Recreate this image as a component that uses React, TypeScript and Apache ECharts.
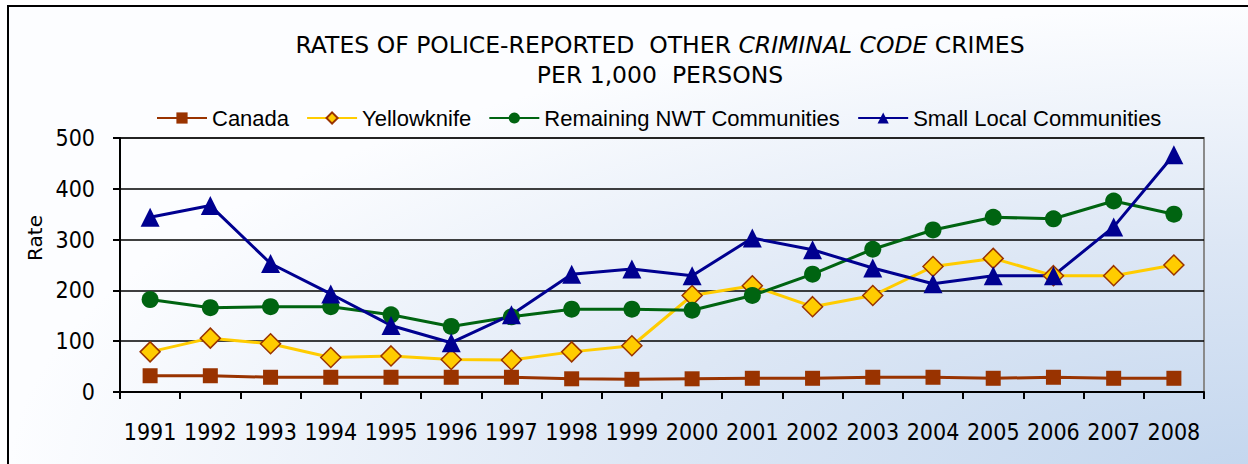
import React, { useEffect, useRef } from "react";
import * as echarts from "echarts";

const years = ["1991", "1992", "1993", "1994", "1995", "1996", "1997", "1998", "1999", "2000", "2001", "2002", "2003", "2004", "2005", "2006", "2007", "2008"];
const canada = [32, 32, 29, 29, 29, 29, 29, 26, 25, 26, 27, 27, 29, 29, 27, 29, 27, 27];
const yellowknife = [79, 106, 95, 68, 71, 64, 63, 79, 91, 190, 209, 168, 190, 247, 263, 229, 229, 250];
const remainingNWT = [182, 166, 168, 168, 152, 129, 148, 163, 163, 161, 190, 232, 281, 319, 344, 341, 376, 350];
const smallLocal = [344, 367, 253, 193, 131, 97, 152, 232, 242, 229, 303, 280, 244, 213, 229, 229, 325, 467];
const yTicks = { min: 0, max: 500, interval: 100 };

const FONT = "'DejaVu Sans Condensed', 'DejaVu Sans', sans-serif";
const TITLE_FONT = "'DejaVu Sans', Verdana, sans-serif";
const LEGEND_FONT = "'Liberation Sans', Arial, sans-serif";

export default function App() {
  const ref = useRef<HTMLDivElement>(null);
  useEffect(() => {
    if (!ref.current) return;
    const chart = echarts.init(ref.current, undefined, { renderer: "svg" });
    const line = (name: string, data: number[], color: string, symbol: string, size: number, item: any) => ({
      name,
      type: "line",
      data,
      symbol,
      symbolSize: size,
      lineStyle: { color, width: 3 },
      itemStyle: item,
      emphasis: { disabled: true },
    });
    chart.setOption({
      animation: false,
      graphic: [
        {
          type: "rect",
          z: -100,
          shape: { x: 8, y: 6, width: 1250, height: 470 },
          style: {
            fill: {
              type: "radial",
              x: 1,
              y: 1,
              r: 1,
              colorStops: [
                { offset: 0, color: "#c3d6ee" },
                { offset: 0.5, color: "#dde7f5" },
                { offset: 1, color: "#fcfdff" },
              ],
            },
            stroke: "#000",
            lineWidth: 2,
          },
          silent: true,
        },
        {
          type: "text",
          x: 35,
          y: 238,
          rotation: Math.PI / 2,
          style: {
            text: "Rate",
            font: `20px ${TITLE_FONT}`,
            fill: "#000",
            align: "center",
            verticalAlign: "middle",
          },
        },
      ],
      title: {
        text: "RATES OF POLICE-REPORTED  OTHER {it|CRIMINAL CODE} CRIMES\nPER 1,000  PERSONS",
        left: 655,
        top: 25,
        textAlign: "center",
        textStyle: {
          fontFamily: TITLE_FONT,
          fontSize: 23.5,
          fontWeight: "normal",
          color: "#000",
          lineHeight: 30,
          rich: {
            it: { fontFamily: TITLE_FONT, fontSize: 23.5, fontStyle: "italic", color: "#000", lineHeight: 30 },
          },
        },
      },
      legend: {
        left: 151,
        top: 102,
        itemWidth: 50,
        itemHeight: 14,
        itemGap: 17,
        textStyle: { fontFamily: LEGEND_FONT, fontSize: 22, color: "#000" },
        data: ["Canada", "Yellowknife", "Remaining NWT Communities", "Small Local Communities"],
      },
      grid: {
        left: 120,
        right: 44,
        top: 138,
        bottom: 72,
        show: true,
        borderColor: "#8a8a8a",
        borderWidth: 2,
        backgroundColor: "transparent",
      },
      xAxis: {
        type: "category",
        data: years,
        boundaryGap: true,
        axisLine: { lineStyle: { color: "#000", width: 2 } },
        axisTick: { show: true, length: 7, interval: 0, lineStyle: { color: "#000", width: 2 } },
        axisLabel: { interval: 0, margin: 28, fontFamily: FONT, fontSize: 23, color: "#000" },
        splitLine: { show: false },
      },
      yAxis: {
        type: "value",
        min: yTicks.min,
        max: yTicks.max,
        interval: yTicks.interval,
        axisLine: { show: true, lineStyle: { color: "#000", width: 2 } },
        axisTick: { show: true, length: 7, lineStyle: { color: "#000", width: 2 } },
        axisLabel: { margin: 25, fontFamily: FONT, fontSize: 23, color: "#000" },
        splitLine: { show: true, lineStyle: { color: "#000", width: 1.5 } },
      },
      series: [
        line("Canada", canada, "#993300", "rect", 15, { color: "#993300" }),
        line("Yellowknife", yellowknife, "#FFCC00", "diamond", 20, { color: "#FFCC00", borderColor: "#993300", borderWidth: 1.5 }),
        line("Remaining NWT Communities", remainingNWT, "#006411", "circle", 17, { color: "#006411" }),
        line("Small Local Communities", smallLocal, "#000090", "triangle", 19, { color: "#000090" }),
      ],
    });
    return () => chart.dispose();
  }, []);
  return <div ref={ref} style={{ position: "absolute", left: 0, top: 0, width: 1248, height: 464 }} />;
}
